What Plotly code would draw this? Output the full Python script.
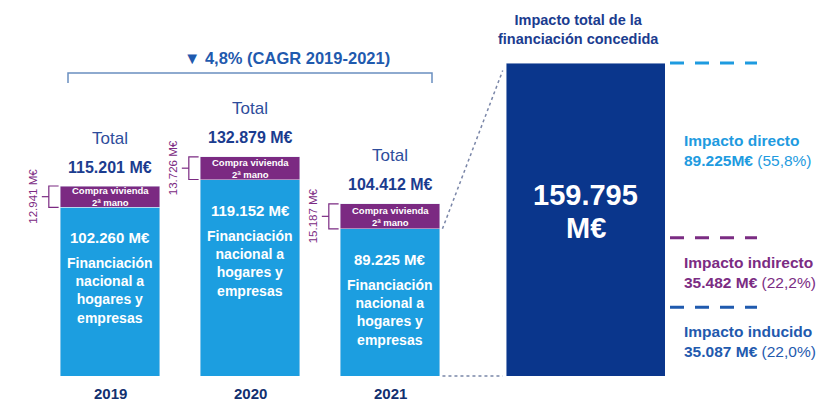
import plotly.graph_objects as go

# data
years = ['2019', '2020', '2021']
financiacion = [102.260, 119.152, 89.225]
compra_vivienda = [12.941, 13.726, 15.187]
totales = [115.201, 132.879, 104.412]

impacto_total = 159.795
impactos = ['Impacto directo', 'Impacto indirecto', 'Impacto inducido']
impacto_vals = [89.225, 35.482, 35.087]
impacto_txt = ['89.225M€', '35.482 M€', '35.087 M€']
impacto_pct = ['(55,8%)', '(22,2%)', '(22,0%)']

W, H = 823, 402
FONT = 'Arial, Liberation Sans, sans-serif'
BLUE = '#1C9EE0'
PURPLE = '#7B2A82'
NAVY = '#0A368C'
TXT_NAVY = '#1B3C8F'
imp_colors = ['#1E9BE0', '#7B2C83', '#1F5AAE']

X_DOM = [40 / W, 460 / W]
X2_DOM = [506 / W, 665 / W]
Y1_MAX = 228
Y2_MAX = 192
BW = 0.714

fig = go.Figure()
fig.add_trace(go.Bar(x=years, y=financiacion, marker_color=BLUE, width=BW,
                     hoverinfo='skip', xaxis='x', yaxis='y'))
fig.add_trace(go.Bar(x=years, y=compra_vivienda, marker_color=PURPLE, width=BW,
                     hoverinfo='skip', xaxis='x', yaxis='y'))
fig.add_trace(go.Bar(x=['total'], y=[impacto_total], marker_color=NAVY, width=1,
                     hoverinfo='skip', xaxis='x2', yaxis='y2'))

ann = []
shapes = []
for i, yr in enumerate(years):
    # category axis -> annotations take the category index
    ann.append(dict(x=i, y=totales[i], xref='x', yref='y', text='Total', showarrow=False,
                    yshift=48, font=dict(size=17, color='#2E4D9C')))
    ann.append(dict(x=i, y=totales[i], xref='x', yref='y', text='<b>%s M€</b>' % f'{totales[i]:.3f}',
                    showarrow=False, yshift=19, font=dict(size=16, color=TXT_NAVY)))
    mid = financiacion[i] + compra_vivienda[i] / 2
    ann.append(dict(x=i, y=mid, xref='x', yref='y', text='<b>Compra vivienda<br>2ª mano</b>',
                    showarrow=False, font=dict(size=9.5, color='white')))
    ann.append(dict(x=i, y=financiacion[i], xref='x', yref='y', yanchor='top',
                    text='<b>%s M€</b>' % f'{financiacion[i]:.3f}', showarrow=False, yshift=-20,
                    font=dict(size=15, color='white')))
    ann.append(dict(x=i, y=financiacion[i], xref='x', yref='y', yanchor='top',
                    text='<b>Financiación<br>nacional a<br>hogares y<br>empresas</b>',
                    showarrow=False, yshift=-46, font=dict(size=14, color='white')))
    ann.append(dict(x=i, y=0, xref='x', yref='y', yanchor='top', yshift=-7,
                    text='<b>%s</b>' % yr, showarrow=False,
                    font=dict(size=15, color='#12306F')))
    # bracket for purple segment
    left = i - BW / 2
    bx = left - 0.08
    lo, hi = financiacion[i], totales[i]
    shapes.append(dict(type='path', xref='x', yref='y',
                       path=f'M {left - 0.01} {lo} L {bx} {lo} L {bx} {hi} L {left - 0.01} {hi}',
                       line=dict(color=PURPLE, width=1.2)))
    shapes.append(dict(type='line', xref='x', yref='y', x0=bx, x1=bx - 0.05,
                       y0=(lo + hi) / 2, y1=(lo + hi) / 2, line=dict(color=PURPLE, width=1.2)))
    ann.append(dict(x=left, y=(lo + hi) / 2, xref='x', yref='y', textangle=-90, xshift=-27,
                    text='%s M€' % f'{compra_vivienda[i]:.3f}', showarrow=False,
                    font=dict(size=11.5, color=PURPLE)))

# CAGR bracket
ann.append(dict(x=287 / W, y=(376 - 58) / 376, xref='paper', yref='paper',
                xanchor='center', yanchor='middle',
                text='<b>▼ 4,8% (CAGR 2019-2021)</b>', showarrow=False,
                font=dict(size=16.5, color='#1F5AAE')))
shapes.append(dict(type='path', xref='paper', yref='paper',
                   path=f'M {68 / W} {(376 - 83) / 376} L {68 / W} {(376 - 73) / 376} '
                        f'L {432 / W} {(376 - 73) / 376} L {432 / W} {(376 - 83) / 376}',
                   line=dict(color='#6A8FC0', width=1.5)))

# connectors from 2021 bar to big bar
x_2021_right = X_DOM[0] + (2 + BW / 2 + 0.5) / 3 * (X_DOM[1] - X_DOM[0])
shapes.append(dict(type='line', xref='paper', yref='paper',
                   x0=x_2021_right + 0.003, y0=financiacion[2] / Y1_MAX,
                   x1=X2_DOM[0] - 0.004, y1=impacto_total / Y2_MAX - 0.02,
                   line=dict(color='#7A86A8', width=1.5, dash='dot')))
shapes.append(dict(type='line', xref='paper', yref='paper',
                   x0=x_2021_right + 0.003, y0=0, x1=X2_DOM[0] - 0.004, y1=0,
                   line=dict(color='#7A86A8', width=1.5, dash='dot')))

# big bar labels
ann.append(dict(x=578 / W, y=(376 - 30) / 376, xref='paper', yref='paper',
                xanchor='center', yanchor='middle',
                text='<b>Impacto total de la<br>financiación concedida</b>', showarrow=False,
                font=dict(size=14.5, color=TXT_NAVY)))
ann.append(dict(x=0, y=impacto_total / 2, xref='x2', yref='y2', yshift=25,
                text='<b>%s</b>' % f'{impacto_total:.3f}', showarrow=False,
                font=dict(size=29, color='white')))
ann.append(dict(x=0, y=impacto_total / 2, xref='x2', yref='y2', yshift=-8,
                text='<b>M€</b>', showarrow=False,
                font=dict(size=29, color='white')))

# impact breakdown: stacked from bottom (inducido, indirecto, directo)
top = impacto_total
for k in range(3):
    bottom = top - impacto_vals[k]
    shapes.append(dict(type='line', xref='paper', yref='y2', x0=670 / W, x1=757 / W,
                       y0=top, y1=top,
                       line=dict(color=imp_colors[k], width=3, dash='14px,11px')))
    ann.append(dict(x=682 / W, y=(top + bottom) / 2, xref='paper', yref='y2', xanchor='left',
                    align='left', showarrow=False,
                    text=f'<b>{impactos[k]}</b><br><b>{impacto_txt[k]}</b> {impacto_pct[k]}',
                    font=dict(size=15.5, color=imp_colors[k])))
    top = bottom

fig.update_layout(
    width=W, height=H,
    barmode='stack',
    showlegend=False,
    paper_bgcolor='white', plot_bgcolor='white',
    margin=dict(l=0, r=0, t=0, b=26),
    font=dict(family=FONT),
    xaxis=dict(domain=X_DOM, range=[-0.5, 2.5], type='category', showticklabels=False,
               ticks='', showgrid=False, zeroline=False, showline=False),
    xaxis2=dict(domain=X2_DOM, range=[-0.5, 0.5], type='category', anchor='y2',
                showticklabels=False, showgrid=False, zeroline=False, showline=False),
    yaxis=dict(range=[0, Y1_MAX], visible=False),
    yaxis2=dict(range=[0, Y2_MAX], visible=False, anchor='x2', overlaying='y'),
    annotations=ann,
    shapes=shapes,
)

fig.write_html('out.html', config={'displayModeBar': False},
               post_script="document.body.style.margin='0';")
